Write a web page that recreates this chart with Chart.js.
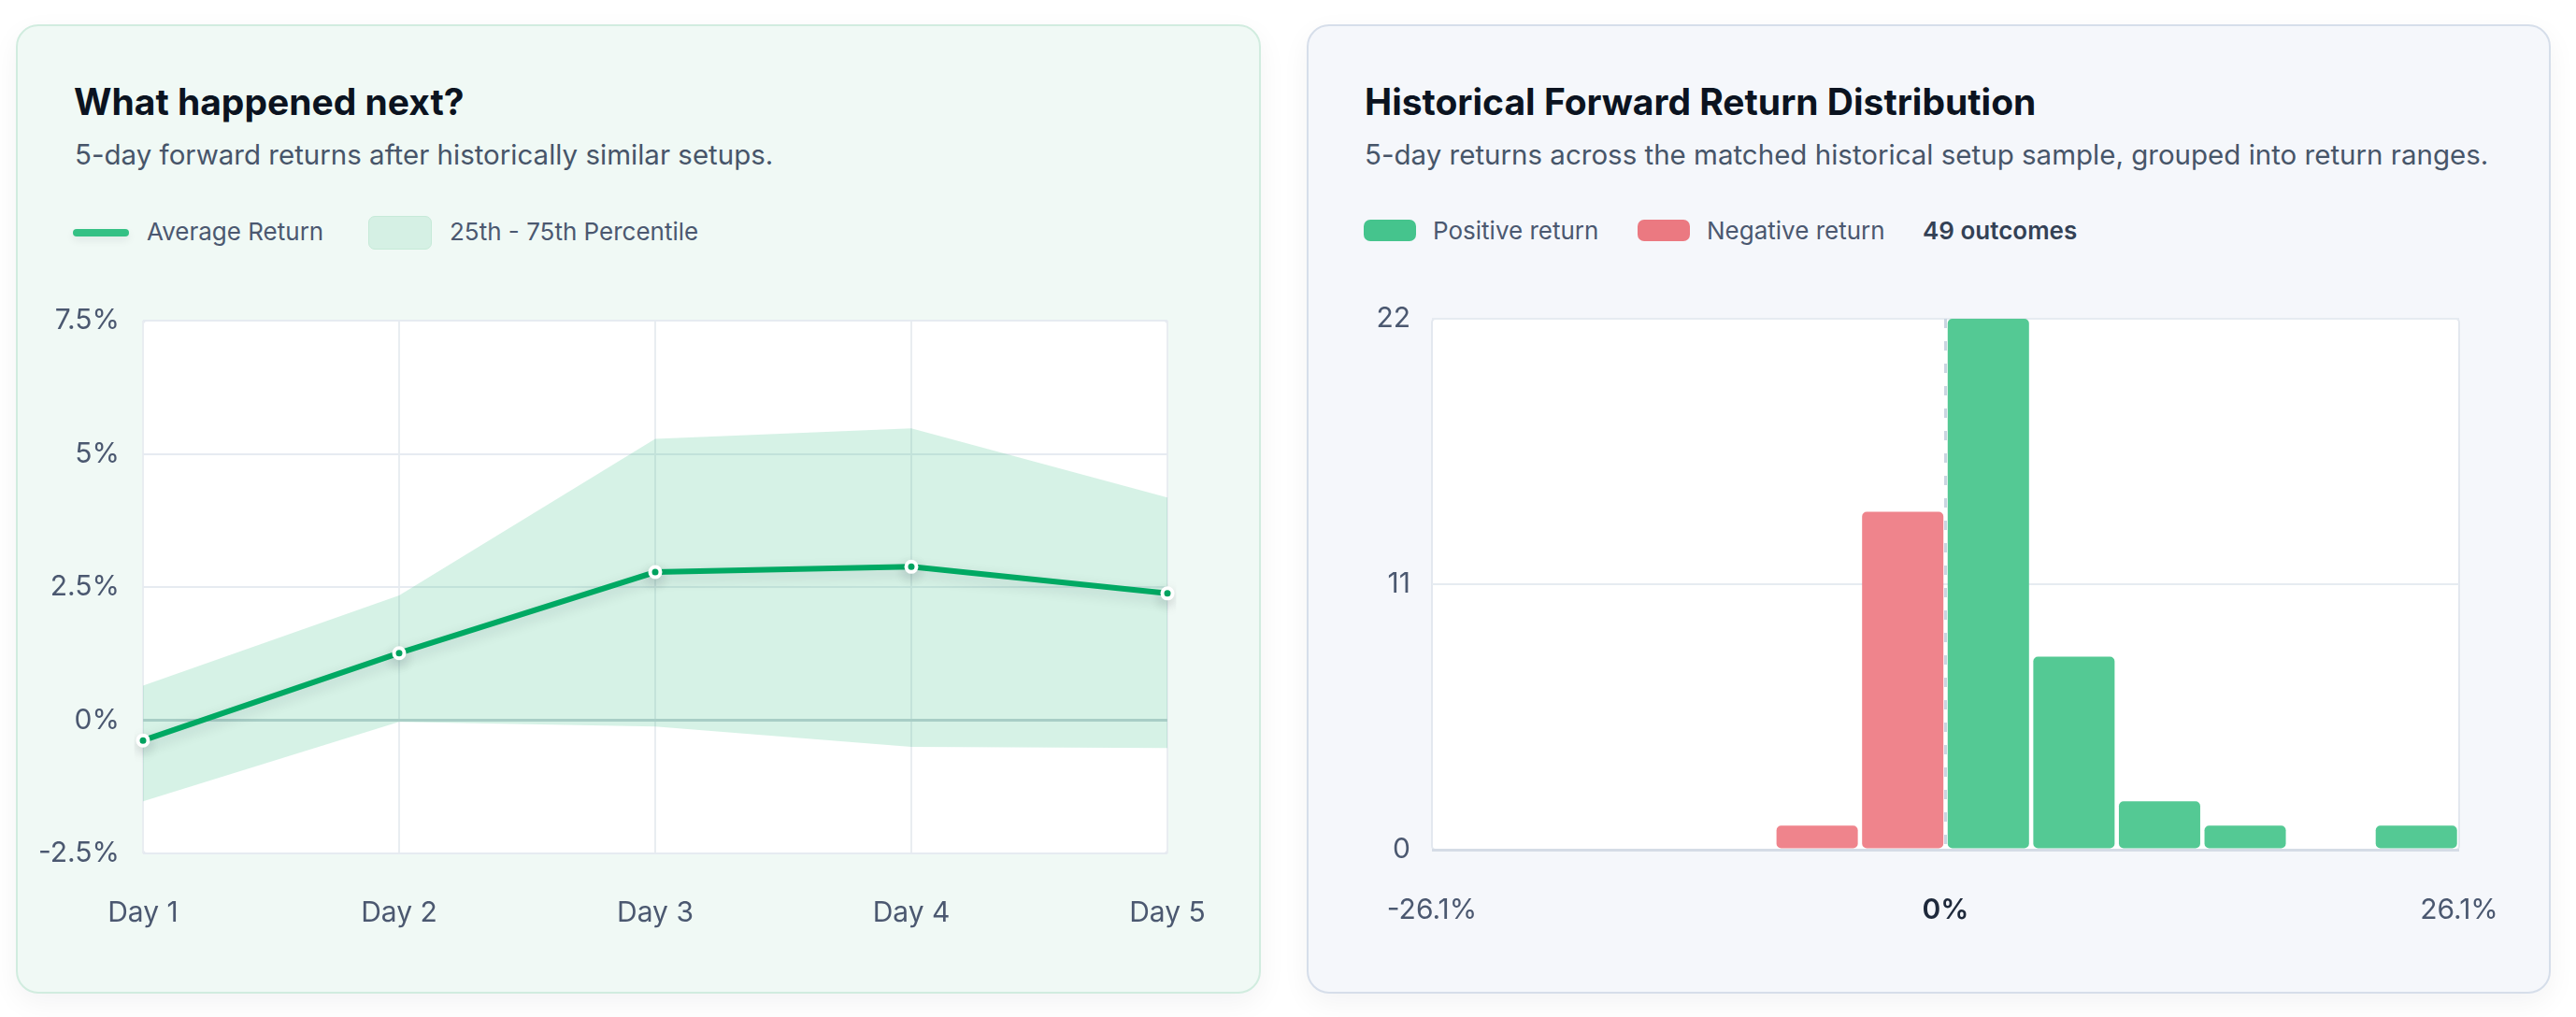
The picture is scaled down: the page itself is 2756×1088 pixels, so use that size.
<!DOCTYPE html>
<html>
<head>
<meta charset="utf-8">
<script src="https://cdn.jsdelivr.net/npm/chart.js@4.4.1/dist/chart.umd.min.js"></script>
<style>
  body { margin: 0; width: 2756px; height: 1088px; background: #ffffff; font-family: Inter, "Noto Sans", sans-serif; position: relative; overflow: hidden; }
  .card { position: absolute; top: 26px; height: 1037px; box-sizing: border-box; border-radius: 24px; box-shadow: 0 10px 30px rgba(15, 23, 42, 0.05); }
  #cardLeft { left: 17px; width: 1332px; background: #f0f9f5; border: 2px solid #d1ecdf; }
  #cardRight { left: 1398px; width: 1331px; background: #f5f7fb; border: 2px solid #d6deea; }
  .title { position: absolute; font-size: 39px; font-weight: 700; line-height: 1; color: #0b1320; white-space: nowrap; }
  .sub { position: absolute; font-size: 29.5px; line-height: 1; color: #475569; white-space: nowrap; }
  .lg { position: absolute; font-size: 26px; line-height: 1; color: #4b5870; white-space: nowrap; }
  .sw { position: absolute; border-radius: 7px; }
  canvas { position: absolute; }
</style>
</head>
<body>
<div class="card" id="cardLeft"></div>
<div class="card" id="cardRight"></div>

<div class="title" style="left:79px; top:89px;">What happened next?</div>
<div class="sub" style="left:80px; top:151px;">5-day forward returns after historically similar setups.</div>
<div class="sw" style="left:78px; top:245px; width:60px; height:8px; border-radius:4px; background:#34c184; box-shadow:0 4px 8px rgba(15,23,42,0.08);"></div>
<div class="lg" style="left:157px; top:235px;">Average Return</div>
<div class="sw" style="left:394px; top:231px; width:66px; height:34px; background:#d5f0e4; border:1px solid #c6ead8;"></div>
<div class="lg" style="left:481px; top:235px;">25th - 75th Percentile</div>

<div class="title" style="left:1460px; top:89px;">Historical Forward Return Distribution</div>
<div class="sub" style="left:1460px; top:151px;">5-day returns across the matched historical setup sample, grouped into return ranges.</div>
<div class="sw" style="left:1459px; top:235px; width:56px; height:23px; background:#45c48d;"></div>
<div class="lg" style="left:1533px; top:234px;">Positive return</div>
<div class="sw" style="left:1752px; top:235px; width:56px; height:23px; background:#eb7981;"></div>
<div class="lg" style="left:1826px; top:234px;">Negative return</div>
<div class="lg" style="left:2057px; top:234px; font-weight:600; color:#334155;">49 outcomes</div>

<canvas id="lineChart" width="1330" height="740" style="left:17px; top:300px;"></canvas>
<canvas id="histChart" width="1330" height="740" style="left:1398px; top:300px;"></canvas>

<script>
// what happened next: 5 day forward returns (%)
var days = ['Day 1', 'Day 2', 'Day 3', 'Day 4', 'Day 5'];
var avgReturn = [-0.38, 1.26, 2.78, 2.88, 2.38];
var pct75 = [0.65, 2.34, 5.28, 5.48, 4.18];
var pct25 = [-1.52, -0.03, -0.12, -0.50, -0.52];
var returnTicks = [-2.5, 0, 2.5, 5, 7.5];

// distribution: 12 bins of 4.35% between -26.1% and 26.1%
var binMids = [-23.925, -19.575, -15.225, -10.875, -6.525, -2.175, 2.175, 6.525, 10.875, 15.225, 19.575, 23.925];
var binCounts = [0, 0, 0, 0, 1, 14, 22, 8, 2, 1, 0, 1];
var rangeTicks = [-26.1, 0, 26.1];
var countTicks = [0, 11, 22];

var tickFont = { family: 'Inter', size: 30 };
var tickColor = '#4b5870';

var plotBox = {
  id: 'plotBox',
  beforeDraw: function(chart) {
    var a = chart.chartArea;
    var ctx = chart.ctx;
    ctx.save();
    ctx.fillStyle = '#ffffff';
    ctx.strokeStyle = '#e3e8ef';
    ctx.lineWidth = 2;
    ctx.beginPath();
    ctx.roundRect(a.left, a.top, a.right - a.left, a.bottom - a.top, 4);
    ctx.fill();
    ctx.stroke();
    ctx.restore();
  }
};

var lineGlow = {
  id: 'lineGlow',
  beforeDatasetDraw: function(chart, args) {
    if (args.index !== 0) return;
    var ctx = chart.ctx;
    ctx.save();
    ctx.shadowColor = 'rgba(15, 23, 42, 0.16)';
    ctx.shadowBlur = 14;
    ctx.shadowOffsetY = 5;
  },
  afterDatasetDraw: function(chart, args) {
    if (args.index === 0) chart.ctx.restore();
  }
};

var zeroDash = {
  id: 'zeroDash',
  beforeDatasetsDraw: function(chart) {
    var x = chart.scales.x.getPixelForValue(0);
    var a = chart.chartArea;
    var ctx = chart.ctx;
    ctx.save();
    ctx.strokeStyle = '#cbd5e1';
    ctx.lineWidth = 3;
    ctx.setLineDash([10, 14]);
    ctx.beginPath();
    ctx.moveTo(x, a.top);
    ctx.lineTo(x, a.bottom);
    ctx.stroke();
    ctx.restore();
  }
};

new Chart(document.getElementById('lineChart'), {
  type: 'line',
  data: {
    labels: days,
    datasets: [{
      label: 'Average Return',
      data: avgReturn,
      borderColor: '#00a963',
      borderWidth: 6,
      pointRadius: 5.5,
      pointBorderWidth: 4,
      pointBackgroundColor: '#00a963',
      pointBorderColor: '#ffffff',
      fill: false,
      tension: 0
    }, {
      label: '75th',
      data: pct75,
      borderWidth: 0,
      pointRadius: 0,
      backgroundColor: 'rgba(52, 190, 130, 0.2)',
      fill: '+1',
      tension: 0
    }, {
      label: '25th',
      data: pct25,
      borderWidth: 0,
      pointRadius: 0,
      fill: false,
      tension: 0
    }]
  },
  options: {
    responsive: false,
    animation: false,
    layout: { padding: { left: 0, right: 98, top: 42, bottom: 0 } },
    plugins: { legend: { display: false }, tooltip: { enabled: false } },
    scales: {
      x: {
        grid: { color: '#e9edf1', lineWidth: 2, drawTicks: false },
        border: { display: false },
        ticks: { font: tickFont, color: tickColor, padding: 46 },
        afterFit: function(s) { s.height = 127; }
      },
      y: {
        min: -2.5,
        max: 7.5,
        afterBuildTicks: function(s) { s.ticks = returnTicks.map(function(v) { return { value: v }; }); },
        grid: {
          drawTicks: false,
          color: function(c) { return c.tick && c.tick.value === 0 ? '#c6d3d8' : '#e6ebf1'; },
          lineWidth: function(c) { return c.tick && c.tick.value === 0 ? 3 : 2; }
        },
        border: { display: false },
        ticks: { font: tickFont, color: tickColor, padding: 25, callback: function(v) { return v + '%'; } },
        afterFit: function(s) { s.width = 136; }
      }
    }
  },
  plugins: [plotBox, lineGlow]
});

new Chart(document.getElementById('histChart'), {
  type: 'bar',
  data: {
    datasets: [{
      data: binMids.map(function(m, i) { return { x: m, y: binCounts[i] }; }),
      backgroundColor: function(c) { return binMids[c.dataIndex] < 0 ? '#ef848c' : '#54c994'; },
      borderRadius: 5,
      borderSkipped: false,
      categoryPercentage: 1,
      barPercentage: 0.95
    }]
  },
  options: {
    responsive: false,
    animation: false,
    layout: { padding: { left: 0, right: 97, top: 36, bottom: 0 } },
    plugins: { legend: { display: false }, tooltip: { enabled: false } },
    scales: {
      x: {
        type: 'linear',
        offset: false,
        min: -26.1,
        max: 26.1,
        afterBuildTicks: function(s) { s.ticks = rangeTicks.map(function(v) { return { value: v }; }); },
        grid: { display: false, drawTicks: false },
        border: { display: false },
        ticks: {
          padding: 47,
          font: function(c) { return { family: 'Inter', size: 30, weight: c.tick && c.tick.value === 0 ? '600' : '400' }; },
          color: function(c) { return c.tick && c.tick.value === 0 ? '#1e293b' : tickColor; },
          callback: function(v) { return v + '%'; }
        },
        afterFit: function(s) { s.height = 131; }
      },
      y: {
        min: 0,
        max: 22,
        afterBuildTicks: function(s) { s.ticks = countTicks.map(function(v) { return { value: v }; }); },
        grid: {
          drawTicks: false,
          color: function(c) { return c.tick && c.tick.value === 0 ? '#d5dce6' : '#e6ebf1'; },
          lineWidth: function(c) { return c.tick && c.tick.value === 0 ? 3 : 2; }
        },
        border: { display: false },
        ticks: { font: tickFont, color: tickColor, padding: 23 },
        afterFit: function(s) { s.width = 134; }
      }
    }
  },
  plugins: [plotBox, zeroDash]
});
</script>
</body>
</html>
